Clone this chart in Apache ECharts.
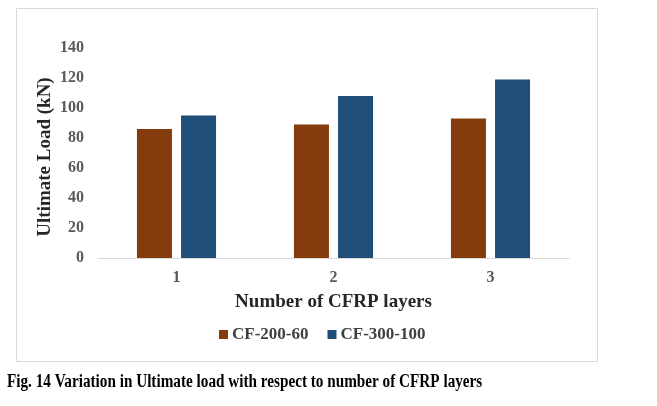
<!DOCTYPE html>
<html><head><meta charset="utf-8">
<script src="https://cdn.jsdelivr.net/npm/echarts@6/dist/echarts.min.js"></script>
<style>html,body{margin:0;padding:0;background:#fff}#c{width:657px;height:406px}</style>
</head><body><div id="c"></div>
<script>
const categories = ['1', '2', '3'];
const cf200 = [86, 89, 93];
const cf300 = [95, 108, 119];
const seriesNames = ['CF-200-60', 'CF-300-100'];
const yTicks = [0, 20, 40, 60, 80, 100, 120, 140];

const font = 'Liberation Serif, Times New Roman, serif';
const chart = echarts.init(document.getElementById('c'));
chart.setOption({
  animation: false,
  backgroundColor: '#fff',
  grid: { left: 98, right: 88, top: 48, bottom: 148, containLabel: false },
  graphic: [
    { type: 'rect', shape: { x: 16.5, y: 8.5, width: 581, height: 353 },
      style: { fill: 'none', stroke: '#d9d9d9', lineWidth: 1 } },
    { type: 'text', x: 7, y: 373, scaleX: 0.845,
      style: { text: 'Fig. 14 Variation in Ultimate load with respect to number of CFRP layers',
        font: 'bold 18px ' + font, fill: '#000' } }
  ],
  legend: {
    data: seriesNames, top: 321, left: 214,
    itemWidth: 9, itemHeight: 9, itemGap: 19, icon: 'rect',
    textStyle: { fontFamily: font, fontWeight: 'bold', fontSize: 17, color: '#404040', padding: [0, 0, 0, -1] }
  },
  xAxis: {
    type: 'category', data: categories,
    name: 'Number of CFRP layers', nameLocation: 'middle', nameGap: 35,
    nameTextStyle: { fontFamily: font, fontWeight: 'bold', fontSize: 19, color: '#262626' },
    axisLine: { lineStyle: { color: '#d9d9d9', width: 1 } },
    axisTick: { show: false },
    axisLabel: { fontFamily: font, fontWeight: 'bold', fontSize: 16, color: '#595959', margin: 12 }
  },
  yAxis: {
    type: 'value', min: 0, max: 140, interval: 20,
    name: 'Ultimate Load (kN)', nameLocation: 'middle', nameGap: 43, nameRotate: 90,
    nameMoveOverlap: false,
    nameTextStyle: { fontFamily: font, fontWeight: 'bold', fontSize: 19, color: '#262626', padding: [0, 8, 0, 0] },
    axisLine: { show: false }, axisTick: { show: false },
    splitLine: { show: false },
    axisLabel: { fontFamily: font, fontWeight: 'bold', fontSize: 16, color: '#595959', margin: 14,
      formatter: v => yTicks.includes(v) ? String(v) : '' }
  },
  series: [
    { name: seriesNames[0], type: 'bar', data: cf200, barWidth: 35, barGap: '26%',
      itemStyle: { color: '#843C0C' } },
    { name: seriesNames[1], type: 'bar', data: cf300, barWidth: 35, barGap: '26%',
      itemStyle: { color: '#1F4E79' } }
  ]
});
</script></body></html>
